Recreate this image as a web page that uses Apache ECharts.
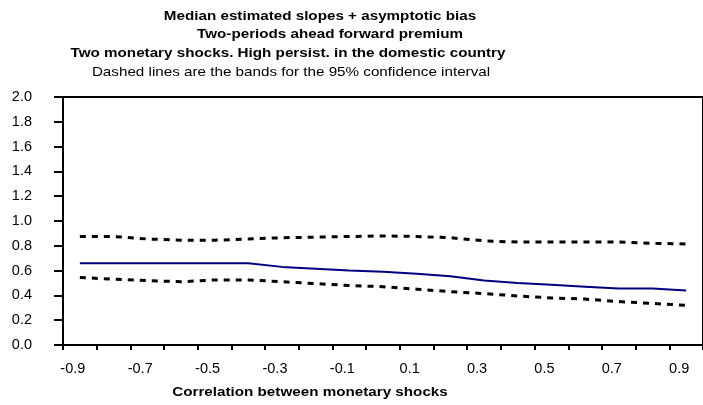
<!DOCTYPE html>
<html><head><meta charset="utf-8">
<script src="https://cdn.jsdelivr.net/npm/echarts@6/dist/echarts.min.js"></script>
<style>html,body{margin:0;padding:0;background:#fff}#c{width:703px;height:405px}</style>
</head><body><div id="c"></div>
<script>
const categories = ['-0.9','-0.8','-0.7','-0.6','-0.5','-0.4','-0.3','-0.2','-0.1','0.0','0.1','0.2','0.3','0.4','0.5','0.6','0.7','0.8','0.9'];
const medianSlope = [0.66,0.66,0.66,0.66,0.66,0.66,0.63,0.615,0.60,0.59,0.575,0.555,0.52,0.50,0.485,0.47,0.455,0.455,0.44];
const upperBand = [0.875,0.875,0.855,0.845,0.845,0.855,0.865,0.87,0.875,0.88,0.875,0.865,0.84,0.83,0.83,0.83,0.83,0.82,0.815];
const lowerBand = [0.545,0.53,0.52,0.51,0.525,0.525,0.51,0.495,0.48,0.47,0.45,0.43,0.415,0.395,0.38,0.37,0.35,0.335,0.32];
const titleLines = [
  'Median estimated slopes + asymptotic bias',
  'Two-periods ahead forward premium',
  'Two monetary shocks. High persist. in the domestic country',
  'Dashed lines are the bands for the 95% confidence interval'
];
const xAxisTitle = 'Correlation between monetary shocks';

const FONT = '"Liberation Sans", Arial, sans-serif';
const SX = 1.17;
const chart = echarts.init(document.getElementById('c'), null, {renderer: 'canvas'});
const titlePos = [[320, 16, 'bold'], [330, 34, 'bold'], [288, 53, 'bold'], [291, 72, 'normal']];
const graphics = titleLines.map((t, i) => ({
  type: 'text', x: titlePos[i][0], y: titlePos[i][1], scaleX: SX,
  style: {text: t, fill: '#000', font: titlePos[i][2] + ' 13px ' + FONT, textAlign: 'center', textVerticalAlign: 'middle'}
}));
graphics.push({type: 'text', x: 310, y: 392, scaleX: SX,
  style: {text: xAxisTitle, fill: '#000', font: 'bold 13px ' + FONT, textAlign: 'center', textVerticalAlign: 'middle'}});

chart.setOption({
  animation: false,
  backgroundColor: '#fff',
  grid: {left: 63, top: 97, width: 646, height: 248, show: true, borderColor: '#000', borderWidth: 2, backgroundColor: 'transparent'},
  xAxis: {
    type: 'category', data: categories, boundaryGap: true,
    axisLine: {lineStyle: {color: '#000', width: 2}},
    axisTick: {show: true, interval: 0, length: 5, lineStyle: {color: '#000', width: 2}},
    axisLabel: {interval: 1, margin: 16, color: '#000', fontSize: 14.5, fontFamily: FONT, padding: [0, 14, 0, 0]},
    splitLine: {show: false}
  },
  yAxis: {
    type: 'value', min: 0, max: 2, interval: 0.2,
    axisLine: {show: true, lineStyle: {color: '#000', width: 2}},
    axisTick: {show: true, length: 9, lineStyle: {color: '#000', width: 2}},
    axisLabel: {margin: 31, color: '#000', fontSize: 14.5, fontFamily: FONT, formatter: v => v.toFixed(1)},
    splitLine: {show: false}
  },
  graphic: graphics,
  series: [
    {type: 'line', data: upperBand, symbol: 'none', lineStyle: {color: '#000', width: 3, type: [6, 6]}},
    {type: 'line', data: lowerBand, symbol: 'none', lineStyle: {color: '#000', width: 3, type: [6, 6]}},
    {type: 'line', data: medianSlope, symbol: 'none', lineStyle: {color: '#000080', width: 2}}
  ]
});
</script></body></html>
